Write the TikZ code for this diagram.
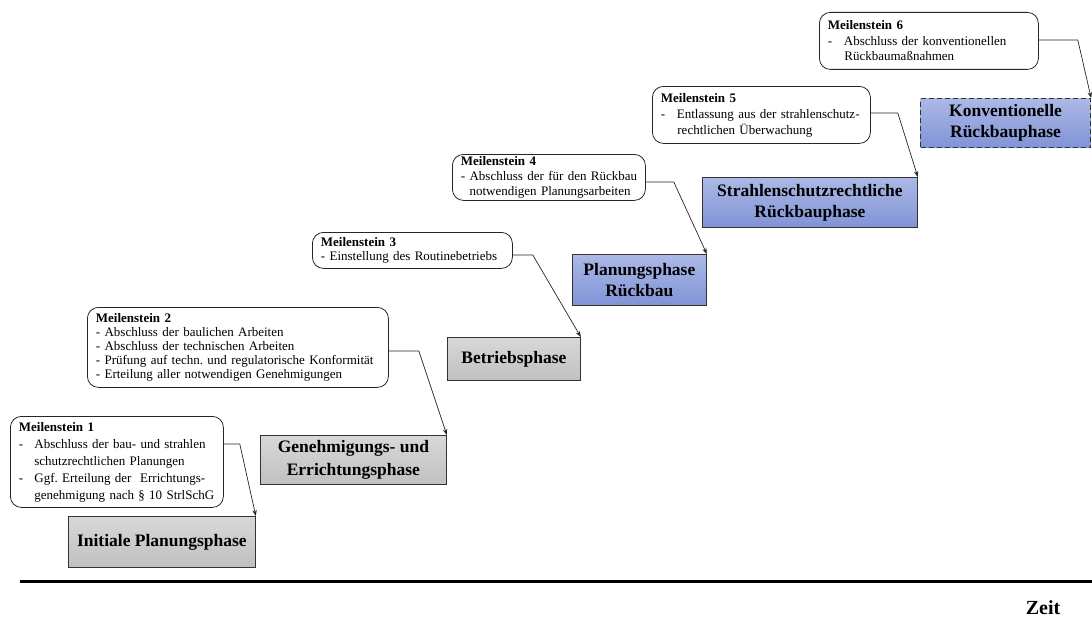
\documentclass[tikz,border=0pt]{standalone}
\usepackage{fontspec}
\setmainfont{Liberation Serif}
\usetikzlibrary{arrows.meta}
\definecolor{bluetop}{RGB}{172,185,230}
\definecolor{bluebot}{RGB}{128,147,214}
\definecolor{graytop}{RGB}{216,216,216}
\definecolor{graybot}{RGB}{192,192,192}
% hanging-indent helpers for the milestone lists
\newcommand\dashitem[1]{\makebox[#1][l]{-}}
\newcommand\dashcont[1]{\hspace*{#1}}
\frenchspacing
\begin{document}
\begin{tikzpicture}[x=1pt,y=-1pt,
  milestone/.style={draw=black!85, line width=0.8pt, rounded corners=11pt,
    anchor=north west, align=left, inner xsep=8.5pt, inner ysep=0pt},
  phase/.style={draw=black!80, line width=0.8pt, anchor=north west,
    align=center, inner sep=0pt,
    font=\fontsize{17.5}{21}\selectfont\bfseries},
  grayphase/.style={phase, top color=graytop, bottom color=graybot},
  bluephase/.style={phase, top color=bluetop, bottom color=bluebot},
  conn/.style={draw=black!85, line width=0.7pt,
    -{Stealth[length=6pt,width=4.5pt]}},
]
\useasboundingbox (0,0) rectangle (1092,618);

% project phases
\node[grayphase, minimum width=187pt, minimum height=51pt] (p1) at (68,516)
  {Initiale Planungsphase};
\node[grayphase, minimum width=186pt, minimum height=49pt,
  font=\fontsize{17.5}{23}\selectfont\bfseries] (p2) at (260,435)
  {Genehmigungs- und\\Errichtungsphase};
\node[grayphase, minimum width=133pt, minimum height=43pt] (p3) at (447,337)
  {Betriebsphase};
\node[bluephase, minimum width=134pt, minimum height=51pt] (p4) at (572,254)
  {Planungsphase\\Rückbau};
\node[bluephase, minimum width=215pt, minimum height=50pt] (p5) at (702,177)
  {Strahlenschutzrechtliche\\Rückbauphase};
\node[bluephase, dash pattern=on 5pt off 3pt, line width=1.1pt,
  minimum width=170pt, minimum height=49pt] (p6) at (920,98)
  {Konventionelle\\Rückbauphase};

% milestones
\node[milestone, minimum width=213pt, minimum height=91pt, text width=196pt,
  font=\fontsize{13}{17}\selectfont] (m1) at (10,416)
  {\textbf{Meilenstein 1}\\
   \dashitem{15.5pt}Abschluss der bau- und strahlen\\
   \dashcont{15.5pt}schutzrechtlichen Planungen\\
   \dashitem{15.5pt}\mbox{Ggf. Erteilung der\ \ Errichtungs-}\\
   \dashcont{15.5pt}\mbox{genehmigung nach § 10 StrlSchG}};
\node[milestone, minimum width=301pt, minimum height=80pt, text width=284pt,
  font=\fontsize{13}{14.2}\selectfont] (m2) at (87,307)
  {\textbf{Meilenstein 2}\\
   - Abschluss der baulichen Arbeiten\\
   - Abschluss der technischen Arbeiten\\
   \mbox{- Prüfung auf techn. und regulatorische Konformität}\\
   - Erteilung aller notwendigen Genehmigungen};
\node[milestone, minimum width=200pt, minimum height=36pt, text width=183pt,
  font=\fontsize{13}{13.5}\selectfont] (m3) at (312,232)
  {\textbf{Meilenstein 3}\\
   - Einstellung des Routinebetriebs};
\node[milestone, minimum width=193pt, minimum height=46pt, text width=176pt,
  font=\fontsize{13}{15}\selectfont] (m4) at (452,154)
  {\textbf{Meilenstein 4}\\
   \mbox{- Abschluss der für den Rückbau}\\
   \hphantom{-}\ notwendigen Planungsarbeiten};
\node[milestone, minimum width=218pt, minimum height=57pt, text width=201pt,
  font=\fontsize{13}{16}\selectfont] (m5) at (652,86)
  {\textbf{Meilenstein 5}\\
   \dashitem{16pt}\mbox{Entlassung aus der strahlenschutz-}\\
   \dashcont{16.5pt}rechtlichen Überwachung};
\node[milestone, minimum width=219pt, minimum height=57pt, text width=202pt,
  font=\fontsize{13}{15.5}\selectfont] (m6) at (819,12)
  {\textbf{Meilenstein 6}\\
   \dashitem{16pt}Abschluss der konventionellen\\
   \dashcont{16.5pt}Rückbaumaßnahmen};

% milestone -> phase connectors
\draw[conn] ([yshift=-28pt]m1.north east) -- ++(16,0) -- (p1.north east);
\draw[conn] ([yshift=-44pt]m2.north east) -- ++(30,0) -- (p2.north east);
\draw[conn] ([yshift=-23pt]m3.north east) -- ++(20,0) -- (p3.north east);
\draw[conn] ([yshift=-28pt]m4.north east) -- ++(28,0) -- (p4.north east);
\draw[conn] ([yshift=-27pt]m5.north east) -- ++(27,0) -- (p5.north east);
\draw[conn] ([yshift=-28pt]m6.north east) -- ++(39,0) -- (p6.north east);

% time axis
\coordinate (t0) at (20,581);
\coordinate (t1) at (1092,581);
\draw[line width=3pt] (t0) -- (t1);
\node[font=\fontsize{20}{20}\selectfont\bfseries, inner sep=0pt, anchor=base]
  (zeit) at (1043,614) {Zeit};
\end{tikzpicture}
\end{document}
